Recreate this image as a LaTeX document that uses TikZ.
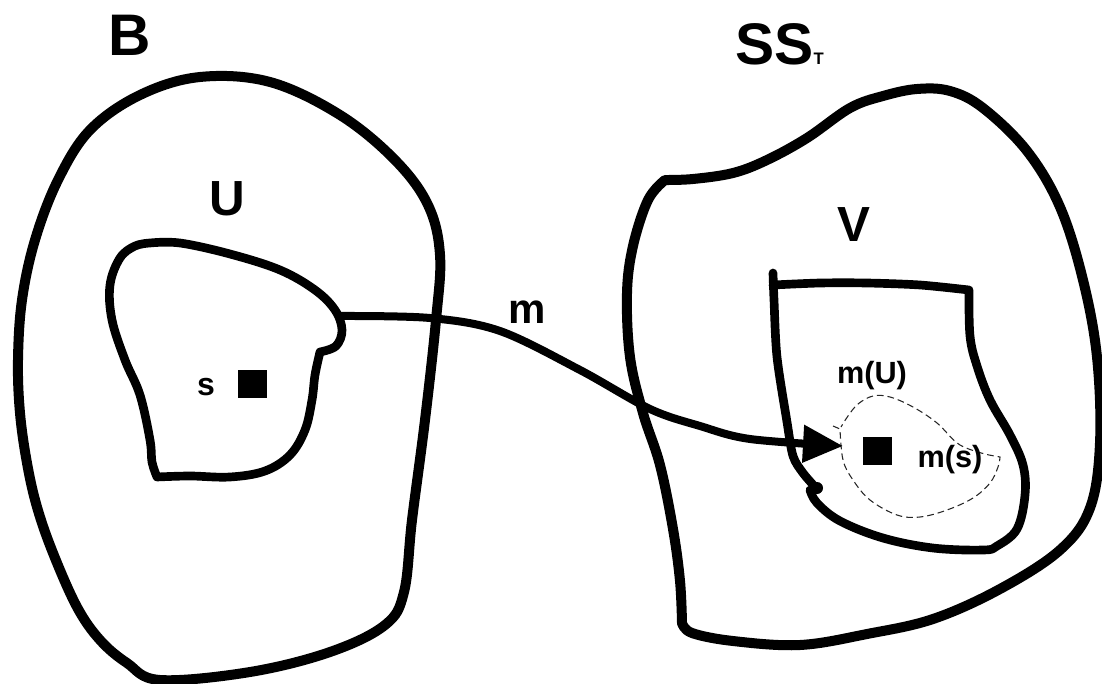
\documentclass[tikz,border=0pt]{standalone}
\usepackage{fontspec}
\setmainfont{Liberation Sans}
\usetikzlibrary{arrows.meta}

\tikzset{
  region/.style={line width=7.5pt, line join=round, line cap=round},
  subregion/.style={line width=6.5pt, line join=round, line cap=round},
  mapline/.style={line width=6pt, line cap=round,
    -{Triangle[length=30pt,width=27pt]}},
  imagedash/.style={black!85, line width=0.8pt, dash pattern=on 5pt off 3pt},
  point/.style={fill=black, draw=none, minimum size=21.5pt, inner sep=0pt},
  lbl/.style={font=\bfseries, inner sep=0pt, anchor=base},
}

\begin{document}
\begin{tikzpicture}[x=0.75pt, y=-0.75pt]
\useasboundingbox (0,0) rectangle (1102,684);

% ---- base space B ----
\draw[region] plot[smooth cycle, tension=0.6] coordinates {
  (200,77) (270,82) (340,115) (395,160) (428,205) (440,255) (436,320)
  (425,420) (412,520) (404,592) (385,625) (330,652) (250,672) (160,680)
  (127,663) (100,640) (77,607) (53,553) (37,507) (27,463) (20,413)
  (18,360) (22,300) (35,240) (58,180) (90,130) (140,95)};

% ---- open set U ----
\draw[subregion] plot[smooth, tension=0.6] coordinates {
  (150,243) (180,243) (230,254) (280,270) (315,290) (335,310) (342,330)
  (336,346) (320,352)}
  -- plot[smooth, tension=0.6] coordinates {
  (320,352) (315,375) (312,400) (305,430) (290,455) (265,471) (230,477)
  (190,476) (157,477)}
  -- plot[smooth, tension=0.6] coordinates {
  (157,477) (152,462) (150,440) (140,395) (125,360) (112,320) (110,285)
  (120,258) (135,246) (150,243)};

% ---- total space SS_T ----
\draw[region] plot[smooth, tension=0.6] coordinates {
  (665,180) (693,179) (733,173) (767,160) (807,138) (850,108) (883,96)
  (917,89) (950,91) (983,108) (1027,151) (1060,207) (1083,280) (1097,357)
  (1100,443) (1090,508) (1060,550) (1000,589) (933,619) (867,634)
  (800,645) (733,641) (692,633) (682,623)}
  -- plot[smooth, tension=0.6] coordinates {
  (682,623) (680,581) (673,529) (660,465) (643,413) (630,357) (627,293)
  (633,246) (648,200) (665,180)};

% ---- open set V ----
\draw[subregion] plot[smooth, tension=0.5] coordinates {
  (816,488) (803,473) (793,456) (787,422) (777,357) (774,300) (773,273)}
  (773,285) -- plot[smooth, tension=0.5] coordinates {
  (773,285) (820,283) (867,283) (920,285) (969,290)}
  -- plot[smooth, tension=0.6] coordinates {
  (969,290) (970,336) (977,366) (990,400) (1010,435) (1023,465)
  (1025,495) (1017,529) (997,546) (983,550) (933,548) (883,538)
  (840,521) (817,503) (810,490)};
\fill (817,488) circle (4.5pt);

% ---- image m(U) ----
\draw[imagedash] (833,426) -- (840,429)
  -- plot[smooth, tension=0.6] coordinates {
  (840,429) (843,460) (853,480) (870,500) (897,515) (920,517) (947,510)
  (973,498) (990,483) (998,467) (1000,457)}
  -- plot[smooth, tension=0.6] coordinates {
  (989,455) (960,445) (937,423) (913,407) (890,397) (873,396) (858,404)
  (848,416) (841,427)};

% ---- points s and m(s) ----
\node[point] (s)  at (252.5,384) {};
\node[point] (ms) at (877.5,451) {};

% ---- the map m ----
\coordinate (mstart) at (340,316);
\coordinate (mend)   at (843,446);
\draw[mapline] plot[smooth, tension=0.55] coordinates {
  (mstart) (430,318) (500,331) (580,370) (650,409) (700,426) (750,439) (mend)};

% ---- labels ----
\node[lbl, font=\bfseries\fontsize{44}{44}\selectfont] (lB) at (130,56) {B};
\node[lbl, font=\bfseries\fontsize{44}{44}\selectfont, anchor=base west] (lSS) at (735,65)
  {SS{\fontsize{12.5}{12.5}\selectfont T}};
\node[lbl, font=\bfseries\fontsize{37}{37}\selectfont] (lU) at (227,216) {U};
\node[lbl, font=\bfseries\fontsize{37}{37}\selectfont] (lV) at (854,242) {V};
\node[lbl, font=\bfseries\fontsize{31.5}{31.5}\selectfont] (lm) at (527,323) {m};
\node[lbl, font=\bfseries\fontsize{24}{24}\selectfont] (ls) at (206,395) {s};
\node[lbl, font=\bfseries\fontsize{23}{23}\selectfont] (lmU) at (872,383) {m(U)};
\node[lbl, font=\bfseries\fontsize{23}{23}\selectfont] (lms) at (950,467) {m(s)};
\end{tikzpicture}
\end{document}
